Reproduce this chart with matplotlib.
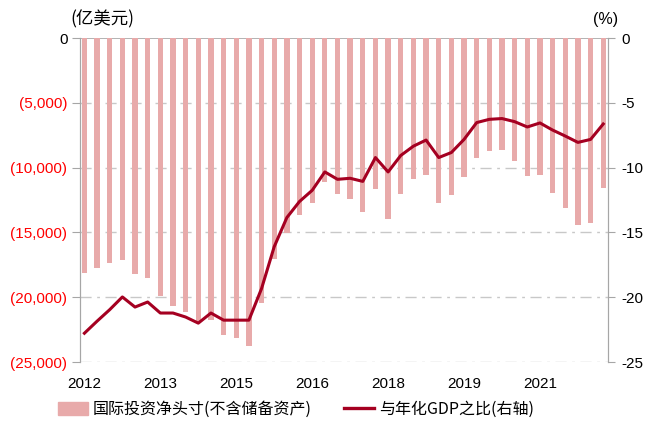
import numpy as np
import matplotlib
matplotlib.use("Agg")
import matplotlib.pyplot as plt
from matplotlib.ticker import FuncFormatter
from matplotlib.patches import Patch
from matplotlib.lines import Line2D

plt.rcParams['font.family'] = ['Liberation Sans', 'Noto Sans CJK SC', 'DejaVu Sans']

# quarterly data, 2012Q1 - 2022Q2
quarters = ["%dQ%d" % (y, q) for y in range(2012, 2023) for q in range(1, 5)][:42]
xlabels = ["2012", "2013", "2015", "2016", "2018", "2019", "2021"]
niip = [-18110, -17720, -17330, -17100, -18190, -18500, -19920, -20640, -21160, -21990,
        -21730, -22920, -23125, -23745, -20440, -17075, -15010, -13635, -12760, -11100,
        -12060, -12450, -13430, -11670, -13945, -12060, -10895, -10585, -12760, -12135,
        -10710, -9235, -8690, -8615, -9500, -10660, -10585, -11930, -13090, -14410,
        -14280, -11590]
ratio = [-22.78, -21.85, -20.96, -19.98, -20.76, -20.37, -21.22, -21.22, -21.53, -22.00,
         -21.22, -21.77, -21.77, -21.77, -19.33, -16.10, -13.85, -12.61, -11.75, -10.33,
         -10.90, -10.82, -11.06, -9.22, -10.33, -9.06, -8.34, -7.87, -9.22, -8.83,
         -7.82, -6.52, -6.27, -6.21, -6.45, -6.86, -6.55, -7.10, -7.56, -8.05,
         -7.82, -6.63]

bar_c = '#e8aaaa'
line_c = '#a50021'
grid_c = '#c8c8c8'
spine_c = '#a6a6a6'

x = np.arange(len(quarters))
fig = plt.figure(figsize=(6.47, 4.28), dpi=100)
ax = fig.add_axes([0.1236, 0.1542, 0.816, 0.7568])
ax2 = ax.twinx()

ax.bar(x, niip, width=0.42, color=bar_c, zorder=2)
ax2.plot(x, ratio, color=line_c, lw=2.2, zorder=3)

ax.set_xlim(-0.35, len(x) - 1 + 0.37)
ax.set_ylim(-25000, 0)
ax2.set_ylim(-25, 0)
ax.set_yticks(np.arange(-25000, 1, 5000))
ax2.set_yticks(np.arange(-25, 1, 5))

def lfmt(v, pos):
    if v == 0:
        return "0"
    return "(%s)" % format(int(abs(v)), ",")
ax.yaxis.set_major_formatter(FuncFormatter(lfmt))
ax2.yaxis.set_major_formatter(FuncFormatter(lambda v, p: "%d" % v))

ax.tick_params(axis='y', labelsize=11, length=6, color=spine_c, direction='out', pad=3)
ax2.tick_params(axis='y', labelsize=11, length=5, color=spine_c, direction='out', pad=5)
fig.canvas.draw()
for t in ax.get_yticklabels():
    if t.get_text() != "0":
        t.set_color('red')

ax.set_xticks(x[::6])
ax.set_xticklabels(xlabels)
ax.tick_params(axis='x', length=0, labelsize=11, pad=11)

for yv in range(-25000, 0, 5000):
    ax.axhline(yv, color=grid_c, lw=1, ls=(0, (8, 4, 2, 4)), zorder=1)
ax.axhline(0, color=spine_c, lw=1.2, zorder=1)

for a in (ax, ax2):
    a.spines['top'].set_visible(False)
    a.spines['bottom'].set_visible(False)
    a.spines['left'].set_color(spine_c)
    a.spines['right'].set_color(spine_c)

fig.text(0.108, 0.955, "(亿美元)", fontsize=12.5, family=['Noto Sans CJK SC'], va='center')
fig.text(0.916, 0.955, "(%)", fontsize=11.5, va='center')

handles = [Patch(color=bar_c), Line2D([0], [0], color=line_c, lw=2.4)]
labels = ["国际投资净头寸(不含储备资产)", "与年化GDP之比(右轴)"]
fig.legend(handles, labels, loc='center', bbox_to_anchor=(0.457, 0.043), ncol=2, frameon=False,
           handlelength=1.9, handleheight=0.9, columnspacing=2.0, handletextpad=0.3,
           prop={'family': ['Noto Sans CJK SC'], 'size': 11.5})

fig.savefig("out.png", dpi=100)
